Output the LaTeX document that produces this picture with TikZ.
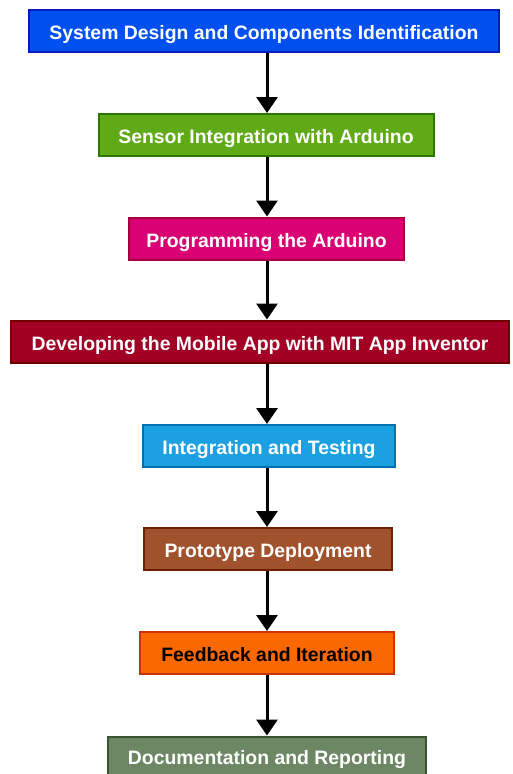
\documentclass[tikz,border=0pt]{standalone}
\usepackage{fontspec}
\setmainfont{Liberation Sans}
\usetikzlibrary{arrows.meta}
\definecolor{sdfill}{HTML}{0050EF}\definecolor{sddraw}{HTML}{001DBC}
\definecolor{sifill}{HTML}{60A917}\definecolor{sidraw}{HTML}{2D7600}
\definecolor{pafill}{HTML}{D80073}\definecolor{padraw}{HTML}{A50040}
\definecolor{appfill}{HTML}{A20025}\definecolor{appdraw}{HTML}{6F0000}
\definecolor{itfill}{HTML}{1BA1E2}\definecolor{itdraw}{HTML}{006EAF}
\definecolor{pdfill}{HTML}{A0522D}\definecolor{pddraw}{HTML}{6D1F00}
\definecolor{fifill}{HTML}{FA6800}\definecolor{fidraw}{HTML}{C73500}
\definecolor{drfill}{HTML}{6D8764}\definecolor{drdraw}{HTML}{3A5431}
\begin{document}
\begin{tikzpicture}[x=1pt,y=-1pt,
		box/.style={draw, line width=2pt, minimum height=42pt, inner sep=0pt, text=white,
			text height=17pt, text depth=0pt, font={\fontsize{19.4}{22}\selectfont\bfseries}},
		flow/.style={line width=3pt, -{Triangle[width=21pt,length=16pt]}}]
		\useasboundingbox (0,0) rectangle (513,774);
		\coordinate (axis) at (267,0);

		\node[box, fill=sdfill, draw=sddraw, minimum width=470pt] at (264,31) (sd) {System Design and Components Identification};
		\node[box, fill=sifill, draw=sidraw, minimum width=335pt] at (266,135) (si) {Sensor Integration with Arduino};
		\node[box, fill=pafill, draw=padraw, minimum width=275pt] at (266.5,238.5) (pa) {Programming the Arduino};
		\node[box, fill=appfill, draw=appdraw, minimum width=498pt] at (260,341.5) (app) {Developing the Mobile App with MIT App Inventor};
		\node[box, fill=itfill, draw=itdraw, minimum width=252pt] at (269,446) (it) {Integration and Testing};
		\node[box, fill=pdfill, draw=pddraw, minimum width=248pt] at (268,549) (pd) {Prototype Deployment};
		\node[box, fill=fifill, draw=fidraw, minimum width=254pt, text=black] at (267,653) (fi) {Feedback and Iteration};
		\node[box, fill=drfill, draw=drdraw, minimum width=318pt, minimum height=38pt] at (267,755.5) (dr) {Documentation and Reporting};

		\foreach \a/\b in {sd/si,si/pa,pa/app,app/it,it/pd,pd/fi,fi/dr}{
			\draw[flow] (\a.south -| axis) -- (\b.north -| axis);
		}
\end{tikzpicture}
\end{document}
